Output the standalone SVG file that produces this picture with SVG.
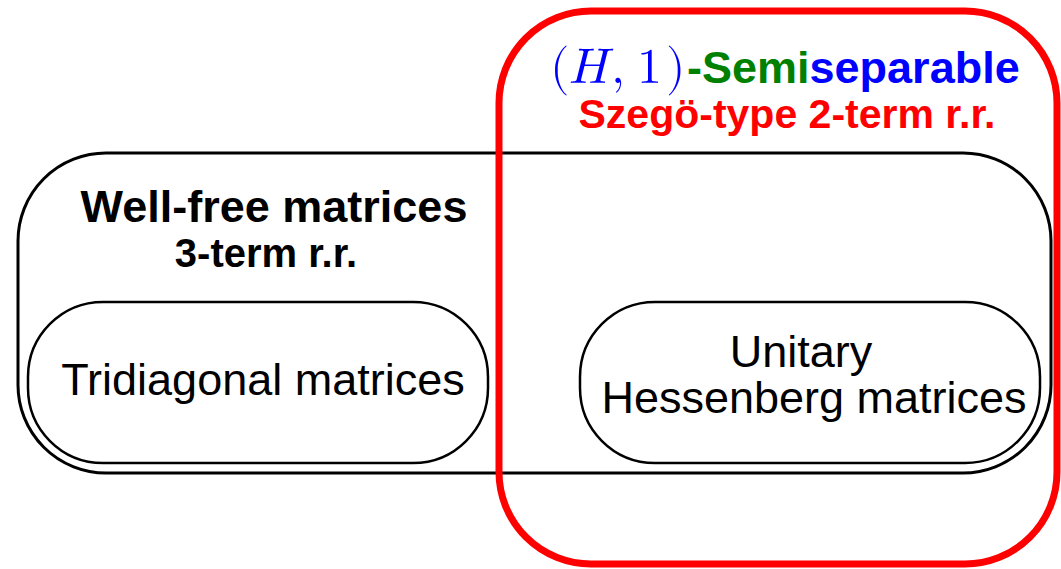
<svg xmlns="http://www.w3.org/2000/svg" width="1061" height="569" viewBox="0 0 1061 569">
<style>
.box{fill:none;stroke:#000;stroke-width:3}
.inner{fill:none;stroke:#000;stroke-width:2.5}
.red{fill:none;stroke:#ff0000;stroke-width:7}
.hb{font-family:"Liberation Sans",Arial,sans-serif;font-weight:bold;text-anchor:middle}
.hr{font-family:"Liberation Sans",Arial,sans-serif;font-size:45px;text-anchor:middle;fill:#000}
.math{font-family:"Latin Modern Math","Liberation Serif","DejaVu Serif",serif;font-size:50px;fill:#0000ff}
</style>
<rect width="1061" height="569" fill="#fff"/>
<g id="wellfree">
<rect class="box" x="18" y="153" width="1033" height="320" rx="88" ry="88"/>
<text class="hb" x="274" y="222" font-size="45" fill="#000">Well-free matrices</text>
<text class="hb" x="266" y="267" font-size="40" fill="#000">3-term r.r.</text>
</g>
<g id="tridiagonal">
<rect class="inner" x="28" y="302" width="460" height="161" rx="75" ry="75"/>
<text class="hr" x="263" y="395">Tridiagonal matrices</text>
</g>
<g id="unitary">
<rect class="inner" x="580" y="302" width="460" height="161" rx="75" ry="75"/>
<text class="hr" x="801" y="367">Unitary</text>
<text class="hr" x="814" y="413">Hessenberg matrices</text>
</g>
<g id="semiseparable">
<rect class="red" x="499" y="11" width="558" height="553" rx="92" ry="92"/>
<text class="math" y="83"><tspan x="550">(</tspan><tspan x="569" font-style="italic">H</tspan><tspan x="611">,</tspan><tspan x="637">1</tspan><tspan x="666">)</tspan></text>
<text x="687" y="83" font-family="'Liberation Sans',Arial,sans-serif" font-weight="bold" font-size="45"><tspan fill="#008000">-Semi</tspan><tspan fill="#0000ff">separable</tspan></text>
<text class="hb" x="787" y="128" font-size="41" fill="#ff0000">Szegö-type 2-term r.r.</text>
</g>
<g id="connectors"/>
</svg>
